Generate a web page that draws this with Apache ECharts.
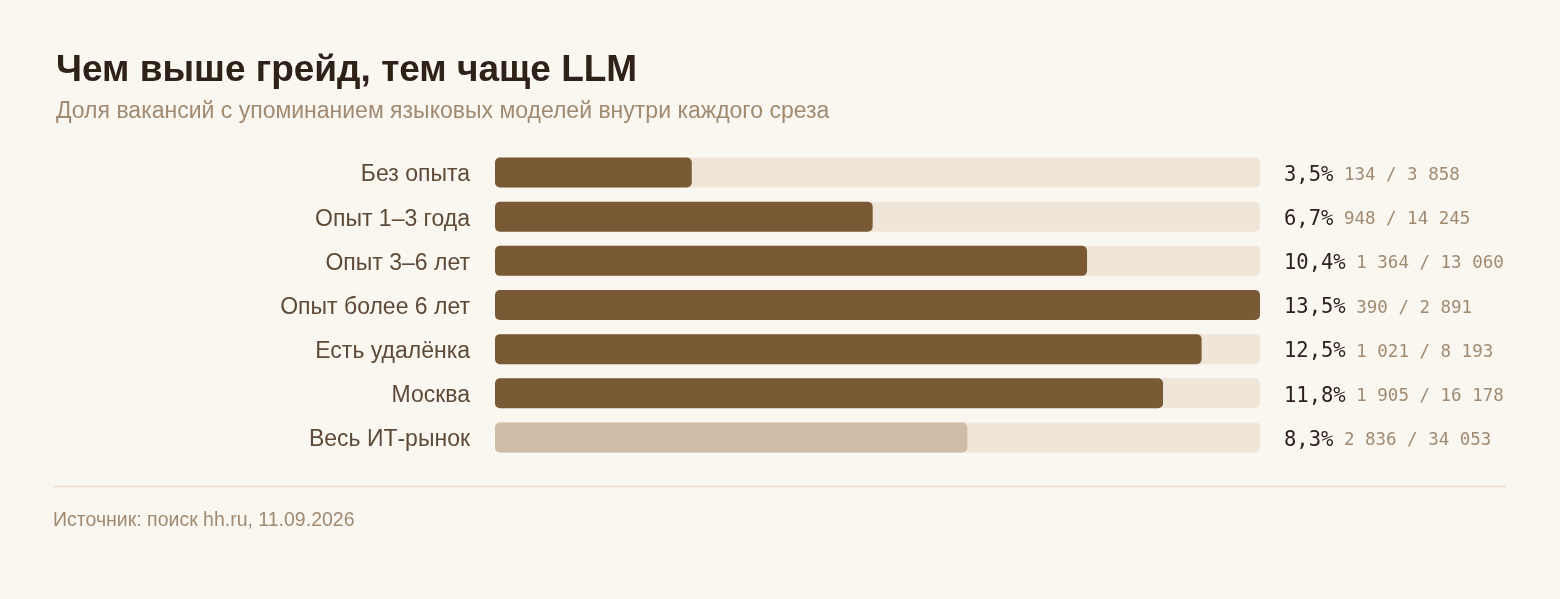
<!DOCTYPE html>
<html><head><meta charset="utf-8">
<script src="https://cdn.jsdelivr.net/npm/echarts@6/dist/echarts.min.js"></script>
<style>html,body{margin:0;padding:0;background:#faf6f0;}#c{width:1560px;height:599px;}</style>
</head><body><div id="c"></div>
<script>
const categories = ['Без опыта','Опыт 1–3 года','Опыт 3–6 лет','Опыт более 6 лет','Есть удалёнка','Москва','Весь ИТ-рынок'];
const shares = [3.47, 6.66, 10.44, 13.49, 12.46, 11.78, 8.33];
const shareLabels = ['3,5%','6,7%','10,4%','13,5%','12,5%','11,8%','8,3%'];
const countLabels = ['134 / 3 858','948 / 14 245','1 364 / 13 060','390 / 2 891','1 021 / 8 193','1 905 / 16 178','2 836 / 34 053'];
const highlight = [true,true,true,true,true,true,false];

const chart = echarts.init(document.getElementById('c'));
const sans = '"Liberation Sans", Arial, sans-serif';
const mono = '"DejaVu Sans Mono", monospace';
chart.setOption({
  backgroundColor: '#faf6f0',
  animation: false,
  title: {
    text: 'Чем выше грейд, тем чаще LLM',
    subtext: 'Доля вакансий с упоминанием языковых моделей внутри каждого среза',
    left: 51, top: 47,
    itemGap: 11,
    textStyle: {fontFamily: sans, fontSize: 37, fontWeight: 'bold', color: '#2e2218'},
    subtextStyle: {fontFamily: sans, fontSize: 23, color: '#a08a72'}
  },
  grid: {left: 495, right: 300, top: 150.5, bottom: 139.5, containLabel: false},
  xAxis: {type: 'value', min: 0, max: Math.max(...shares), show: false},
  yAxis: [{
    type: 'category', data: categories, inverse: true,
    axisLine: {show: false}, axisTick: {show: false}, splitLine: {show: false},
    axisLabel: {
      margin: 25,
      formatter: (v) => '{a|' + v + '}',
      rich: {a: {fontFamily: sans, fontSize: 23, color: '#5e4a38', padding: [5, 0, 0, 0]}}
    }
  },{
    type: 'category', data: categories.map((c,i)=>i), inverse: true, position: 'right',
    axisLine: {show: false}, axisTick: {show: false}, splitLine: {show: false},
    axisLabel: {
      margin: 24, align: 'left', padding: [6, 0, 0, 0],
      formatter: (v) => '{p|' + shareLabels[v] + '}{c| ' + countLabels[v] + '}',
      rich: {
        p: {fontFamily: mono, fontSize: 20.5, color: '#2e2218'},
        c: {fontFamily: mono, fontSize: 17.5, color: '#a08a72'}
      }
    }
  }],
  series: [{
    type: 'bar',
    data: shares.map((v,i)=>({value: v, itemStyle: {color: highlight[i] ? '#7a5a35' : '#cfbca6'}})),
    barWidth: 30,
    showBackground: true,
    backgroundStyle: {color: '#efe5d8', borderRadius: 5},
    itemStyle: {borderRadius: 5}
  }],
  graphic: [
    {type: 'line', shape: {x1: 53, y1: 486.5, x2: 1506, y2: 486.5}, style: {stroke: '#e8dccb', lineWidth: 1.5}},
    {type: 'text', left: 53, top: 511, style: {text: 'Источник: поиск hh.ru, 11.09.2026', font: '19.5px "Liberation Sans", Arial, sans-serif', fill: '#a08a72'}}
  ]
});
</script></body></html>
